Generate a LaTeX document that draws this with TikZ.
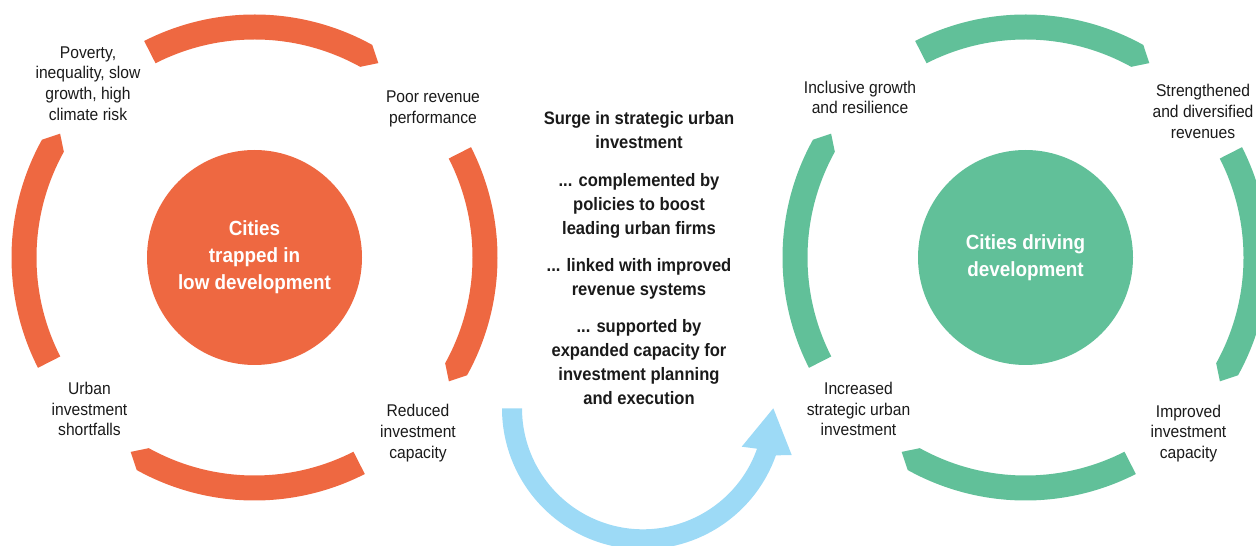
\documentclass[tikz,border=0pt]{standalone}
\usepackage{fontspec}
\usetikzlibrary{calc}
\setmainfont[FakeStretch=0.92]{Liberation Sans}
\definecolor{traporange}{HTML}{EE6841}
\definecolor{drivegreen}{HTML}{61C099}
\definecolor{surgeblue}{HTML}{9DDAF6}
\definecolor{labeltext}{HTML}{1A1A1A}
\begin{document}
\begin{tikzpicture}[x=1pt,y=1pt,
  lbl/.style={align=center, text=labeltext, inner sep=0pt,
    font=\fontsize{17pt}{20.7pt}\selectfont},
  hub/.style={circle, inner sep=0pt, minimum size=215pt, text=white,
    align=center, font=\bfseries\fontsize{20.5pt}{27pt}\selectfont},
  midtext/.style={align=center, text=labeltext, inner sep=0pt,
    font=\bfseries\fontsize{18pt}{24pt}\selectfont}]
\useasboundingbox (0,0) rectangle (1256,546);

\coordinate (L) at (254.5,288.5);
\coordinate (R) at (1025.5,288.5);
\coordinate (B) at (643,137.7);

% four pointed ring segments around each hub, running clockwise
\foreach \hubc/\col in {L/traporange, R/drivegreen}{
  \begin{scope}[shift={(\hubc)}]
    \foreach \a in {90,0,-90,180}{
      \pgfmathsetmacro\sa{\a+27}
      \pgfmathsetmacro\ea{\a-29}
      \pgfmathsetmacro\ta{\a-32.5}
      \fill[\col] (\sa:243) arc[start angle=\sa, end angle=\ea, radius=243]
        -- (\ta:230.5) -- (\ea:218)
        arc[start angle=\ea, end angle=\sa, radius=218] -- cycle;
    }
  \end{scope}
}

% hubs
\node[hub, fill=traporange] (trap) at (L) {Cities\\trapped in\\low development};
\node[hub, fill=drivegreen] (drive) at (R) {Cities driving\\development};

% labels of the low-development cycle
\node[lbl] (poverty) at (88,462.5) {Poverty,\\inequality, slow\\growth, high\\climate risk};
\node[lbl] (poorrev) at (433,437) {Poor revenue\\performance};
\node[lbl] (reduced) at (418,113) {Reduced\\investment\\capacity};
\node[lbl] (shortfall) at (89.5,137) {Urban\\investment\\shortfalls};

% labels of the development cycle
\node[lbl] (inclusive) at (860,448.7) {Inclusive growth\\and resilience};
\node[lbl] (strength) at (1203,434.7) {Strengthened\\and diversified\\revenues};
\node[lbl] (increased) at (858.5,137) {Increased\\strategic urban\\investment};
\node[lbl] (improved) at (1188.5,112.5) {Improved\\investment\\capacity};

% transition text
\node[midtext] (surge) at (639,288.3) {Surge in strategic urban\\investment\\[14pt]
  ... complemented by\\policies to boost\\leading urban firms\\[13pt]
  ... linked with improved\\revenue systems\\[13pt]
  ... supported by\\expanded capacity for\\investment planning\\and execution};

% transition arrow from one cycle to the other
\fill[surgeblue] ($(B)+(180:141)$) arc[start angle=180, end angle=340.5, radius=141]
  -- (791.7,91) -- (773.3,137.7) -- (741.7,99.3)
  -- ($(B)+(340.5:121)$) arc[start angle=340.5, end angle=180, radius=121] -- cycle;
\end{tikzpicture}
\end{document}
